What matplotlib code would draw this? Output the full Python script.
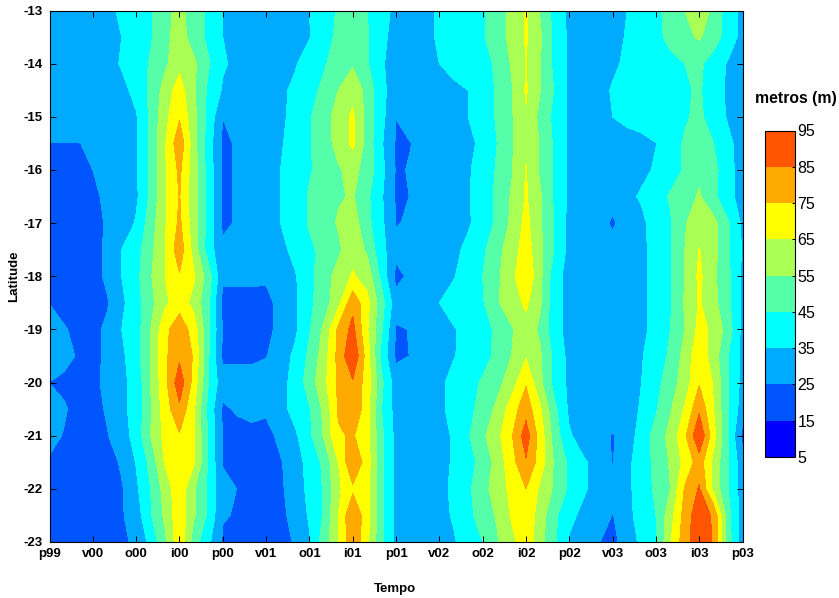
import numpy as np
import matplotlib
matplotlib.use('Agg')
import matplotlib.pyplot as plt

plt.rcParams['font.family'] = ['Liberation Sans', 'DejaVu Sans']

# etiquetas del eje de tiempo (una cada 3 meses)
time_labels = ['p99', 'v00', 'o00', 'i00', 'p00', 'v01', 'o01', 'i01', 'p01',
               'v02', 'o02', 'i02', 'p02', 'v03', 'o03', 'i03', 'p03']
lat_ticks = [-13, -14, -15, -16, -17, -18, -19, -20, -21, -22, -23]
levels = [5, 15, 25, 35, 45, 55, 65, 75, 85, 95]
colors = ['#0000ff', '#0055ff', '#00aaff', '#00ffff', '#55ffaa',
          '#aaff55', '#ffff00', '#ffaa00', '#ff5500']

lats = [-13, -13.5, -14, -14.5, -15, -15.5, -16, -16.5, -17, -17.5, -18,
        -18.5, -19, -19.5, -20, -20.5, -21, -21.5, -22, -22.5, -23]

# valores mensuales, por latitud
r130 = [28,29,29,30,32, 37,41,44,52,58, 50,43,35,31,30, 30,31,33,35,41, 46,52,45,38,33, 32,33,36,39,42, 44,50,58,66,54, 41,33,31,30,30, 35,39,43,48,55, 62,52,40,32]
r135 = [28,28,29,30,32, 35,39,44,52,60, 50,43,35,31,30, 30,31,33,34.5,41, 47,54,46,37,32, 31,33,36,38,41, 44,50,58,66,56, 42,33,31,30,31, 36,39,43,47,53, 56,50,40,32]
r140 = [28,28,29,30,31, 36,40,46,53,62, 57,46,36,33,32, 32,32,34,40,44, 49,54,46,36,31, 30,32,35,38,41, 43,46,56,65,55, 42,33,30,30,33, 37,39,41,43,45, 47,40,34,30]
r145 = [28,28,29,30,31, 32,38,47,59,70, 56,43,34,31,30, 31,33,37,42,47, 55,61,52,37,31, 29,30,31,33,35, 40,46,54,66,55, 44,33,30,31,36, 37,38,40,42,44, 46,40,33,30]
r150 = [29,29,30,30,31, 32,34,47,62,74, 58,42,25.1,30,30, 31,33,38,44,51, 59,67,51,38,25.1, 29,30,31,33,35, 40,46,54,64,52, 42,33,30,31,35, 37,38,40,42,44, 47,40,34,30]
r155 = [24.9,24.9,24.9,25.5,27, 29,34,47,64,82, 59,40,23,26,30, 31,34,39,44,51, 58,67,51,36,24, 24.8,28,30,32,33, 37,45,54,63,54, 43,33,30,30,31, 32,33,34.8,41,46, 52,45,37,31]
r160 = [22,22,23,25,28, 30,34,47,64,77, 59,41,23,26,30, 31,35,40,44,49, 54,58,51,38,24, 25.5,29,30,32,34, 39,46,54,65.5,53, 43,33,30,30,30, 31,33,36,41,46, 53,48,38,31]
r165 = [21,21,22,23,27, 29,33,47,64,75.5, 59,41,23,26,30, 31,35,40,46,50, 54,56,47,36,24, 25.1,28,30,32,34, 40,47,56,66,56, 43,33,30,30,30, 33,36,41,46,51, 56,47,38,31]
r170 = [20,20,21,22,26, 28,36,50,64,77, 59,41,23,26,30, 31,35,40,46,51, 56,60,48,37,24.5, 26,29,30,32,34, 39,47,57,68,56, 44,32,30,30,23, 31,33,39,44,54, 62,58,46,33]
r175 = [20,20,20,21,27, 35,41,52,65,81, 61,40,27,28,29, 30,32,38,43,48, 53,62,53,38,28, 30,31,31,33,37, 43,52,60,70,57, 44,32,30,29,30, 31,33,38,44,55, 65.3,58,46,34]
r180 = [20,20,20,21,27, 35,42,54,65,74, 66,50,27,27,27, 26,30,34,42,50, 59,66,61,42,22, 27,29,32,34.5,39, 45,53,62,74,57, 39,31,30,29,29, 30,33,38,44,55, 67,57,47,33]
r185 = [24.8,21,20,21,24, 33,41,52,63,70, 62,47,22,22,22, 23,27,33,43,50, 62,82,68,49,29, 30,31,35,38,41, 44,54,60,67,56, 38,32,30,29,29, 30,33,38,44,56, 66,58,47,33]
r190 = [28,26,22,22,27, 35,40,55,72,82, 70,47,24.5,22,22, 22,28,33,44,57, 77,88,66,46,24, 25.3,29,33,34.5,37, 41,47,54,61,53, 38,32,30,29,29, 31,32,39,45,55, 68,63,50,32]
r195 = [30,28,24,22,27, 33,41,55,73,83, 74,46,23,23,23, 24.5,30,37,47,60, 78,94,70,42,23, 25.2,29,31,34.5,38, 42,47,55,64,56, 42,32,31,30,30, 32,34,42,46,59, 72,60,45,32]
r200 = [24.9,23,22,22,28, 33,38,55,72,91, 71,45,29,29,29, 30,32,38,50,62, 77,84,70,47,30, 30,31,33,38,42, 46,52,60,74,57, 41,33,31,30,30, 33,35,42,50,60, 74,64,45,32]
r205 = [28,26,22,22,26, 33,38,54,70,83, 66,42,23.5,26,28, 27,31,39,44,57, 76,84,69,45,31, 30,31,33,38,42, 49,57,70,81,66, 47,33,30,29,30, 31,36,44,54,66, 83,65,45,30]
r210 = [27.5,24.5,22,21,24.5, 30,39,55,68,74, 66,44,24.5,22,22, 21,28,33,43,56, 74,76,68,47,32, 30,30,32,36,44, 53,62,74,90,70, 50,36,31,29,24.2, 30,39,49,58,73, 94,68,45,22]
r215 = [24,22,21,20,20, 26.5,35.5,48,66,74, 66,44,24.5,22,21, 22,24,31,38,47, 65,84,70,47,32, 30,30,32,36,42, 48,59,71,84,70, 53,43,36,32,24.4, 33,39,48,56,68, 80,62,45,29]
r220 = [20,20,20,19,19, 24,33,45,59,72, 56,43,27,24.9,21, 21,23,31,37,46, 63,73,68,47,32, 30,30,32,37,43, 52,59,68,75,63, 53,43,36,32,29, 33,39,47,55,76, 86,62,45,30]
r225 = [20,20,19,19,19, 24,30,44,57,72, 56,43,25.5,24.5,21, 21,22,29,36,46, 65,84,69,47,32, 30,30,32,36,42, 50,56,66,72,60, 47,37,33,31,24.5, 32,39,45,61,79, 92,83,48,30]
r230 = [19,19,18,18,19, 23,27,38,53,72, 50,37,24,21,20, 20,21,26,34,50, 64,84,67,47,33, 31,31,32,34,40, 45,54,62,72,58, 46,34,30,25.5,22, 30,37,44,64,81, 92,84,49,30]

z = np.array([r130, r135, r140, r145, r150, r155, r160, r165, r170, r175, r180,
              r185, r190, r195, r200, r205, r210, r215, r220, r225, r230])
t = np.arange(z.shape[1]) / 3.0

W, H = 839, 598
fig = plt.figure(figsize=(W / 100, H / 100), dpi=100)
ax = fig.add_axes([49.5 / W, 1 - 542 / H, (742.6 - 49.5) / W, (542 - 10.5) / H])

cs = ax.contourf(t, lats, z, levels=levels, colors=colors)
ax.set_xlim(0, 16)
ax.set_ylim(-23, -13)
ax.set_xticks(range(len(time_labels)))
ax.set_xticklabels(time_labels, fontsize=9.5, fontweight='bold')
ax.set_yticks(lat_ticks)
ax.set_yticklabels([str(v) for v in lat_ticks], fontsize=9.5, fontweight='bold')
ax.tick_params(direction='in', top=True, right=True, length=4, width=0.7, pad=4)
ax.tick_params(axis='y', pad=5)
for s in ax.spines.values():
    s.set_linewidth(0.8)

fig.text(14 / W, 1 - 276 / H, 'Latitude', rotation=90, ha='center', va='center',
         fontsize=9.5, fontweight='bold')
fig.text(395 / W, 1 - 589 / H, 'Tempo', ha='center', va='center',
         fontsize=9.5, fontweight='bold')
fig.text(755 / W, 1 - 98 / H, 'metros (m)', ha='left', va='center',
         fontsize=11.3, fontweight='bold')

# barra de color
cax = fig.add_axes([764.5 / W, 1 - 457 / H, 30 / W, (457 - 130.5) / H])
cb = fig.colorbar(cs, cax=cax, ticks=levels)
cb.ax.tick_params(direction='in', length=2.5, width=0.7, labelsize=11.5, pad=2)
cb.outline.set_linewidth(0.8)

fig.savefig('out.png', dpi=100)
